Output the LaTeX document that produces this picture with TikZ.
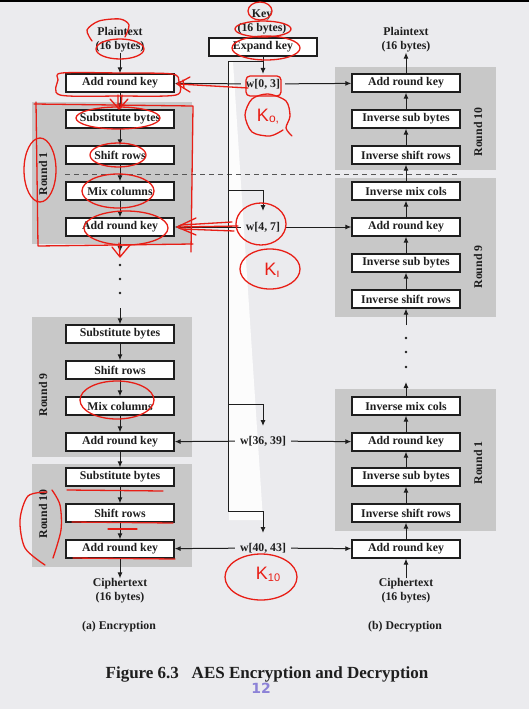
\documentclass[tikz,border=0pt]{standalone}
\usepackage{fontspec}
\setmainfont{Liberation Serif}
\newfontfamily\handfont{Liberation Sans}
\newfontfamily\numfont{DejaVu Sans}
\usetikzlibrary{arrows.meta}
\definecolor{bgc}{RGB}{235,235,238}
\definecolor{roundgrey}{RGB}{200,200,200}
\definecolor{ink}{RGB}{30,30,30}
\definecolor{redink}{RGB}{232,30,22}
\definecolor{pagenum}{RGB}{140,130,215}
\begin{document}
\begin{tikzpicture}[x=1pt,y=-1pt,
  stepbox/.style={draw=ink, line width=1.3pt, fill=white, minimum width=108pt, minimum height=18pt, inner sep=0pt, font=\fontsize{11.8}{14}\selectfont\bfseries, text=ink},
  lbl/.style={inner sep=0pt, font=\fontsize{11.8}{14}\selectfont\bfseries, text=ink, align=center},
  wlbl/.style={lbl, inner xsep=5pt, inner ysep=3pt},
  roundlbl/.style={lbl, rotate=90},
  conn/.style={draw=ink, line width=1pt, -{Latex[length=6pt,width=5pt]}},
  plainline/.style={draw=ink, line width=1pt},
  redmark/.style={draw=redink, line width=1.3pt, line cap=round, line join=round},
  redtext/.style={text=redink, inner sep=0pt, font=\handfont\fontsize{18}{18}\selectfont},
  dotc/.style={circle, fill=ink, inner sep=0pt, minimum size=2.8pt}
]
\useasboundingbox (0,0) rectangle (529,709);
\fill[bgc] (0,0) rectangle (529,709);
\fill[black] (0,0) rectangle (529,2.5);
% white reflection wedge
\fill[white, opacity=0.85] (229,62) -- (233,62) -- (263,520) -- (229,520) -- cycle;

% grey round panels
\fill[roundgrey] (32,102) rectangle (192,244);
\fill[roundgrey] (32,317) rectangle (192,457);
\fill[roundgrey] (32,464) rectangle (192,567);
\fill[roundgrey] (335,67) rectangle (496,170);
\fill[roundgrey] (335,178) rectangle (496,317);
\fill[roundgrey] (335,389) rectangle (496,531);

% dashed separator
\coordinate (dashL) at (65,174);
\coordinate (dashR) at (460,174);
\draw[ink!75, line width=0.9pt, dash pattern=on 5pt off 4pt] (dashL) -- (dashR);

% ---------- Encryption ----------
\node[lbl] (ptL) at (120,40) {Plaintext\\(16 bytes)};
\node[stepbox] (eA0) at (120,83) {Add round key};
\node[stepbox] (eS1) at (120,119) {Substitute bytes};
\node[stepbox] (eR1) at (120,155) {Shift rows};
\node[stepbox] (eM1) at (120,191) {Mix columns};
\node[stepbox] (eA1) at (120,227) {Add round key};
\coordinate (eOut1) at (120,252);
\node[dotc] (eD1) at (120,265) {};
\node[dotc] (eD2) at (120,279) {};
\node[dotc] (eD3) at (120,293) {};
\coordinate (eIn9) at (120,308);
\node[stepbox] (eS9) at (120,334) {Substitute bytes};
\node[stepbox] (eR9) at (120,370) {Shift rows};
\node[stepbox] (eM9) at (120,406) {Mix columns};
\node[stepbox] (eA9) at (120,442) {Add round key};
\node[stepbox] (eS10) at (120,477) {Substitute bytes};
\node[stepbox] (eR10) at (120,513) {Shift rows};
\node[stepbox] (eA10) at (120,549) {Add round key};
\node[lbl] (ctL) at (120,591) {Ciphertext\\(16 bytes)};
\node[lbl] (capA) at (119,627) {(a) Encryption};
\node[roundlbl] (rlE1) at (43,174) {Round 1};
\node[roundlbl] (rlE9) at (43,395) {Round 9};
\node[roundlbl] (rlE10) at (43,514) {Round 10};

\draw[conn] (ptL) -- (eA0);
\draw[conn] (eA0) -- (eS1);
\draw[conn] (eS1) -- (eR1);
\draw[conn] (eR1) -- (eM1);
\draw[conn] (eM1) -- (eA1);
\draw[conn] (eA1) -- (eOut1);
\draw[conn] (eIn9) -- (eS9);
\draw[conn] (eS9) -- (eR9);
\draw[conn] (eR9) -- (eM9);
\draw[conn] (eM9) -- (eA9);
\draw[conn] (eA9) -- (eS10);
\draw[conn] (eS10) -- (eR10);
\draw[conn] (eR10) -- (eA10);
\draw[conn] (eA10) -- (ctL);

% ---------- Decryption ----------
\node[lbl] (ptR) at (406,40) {Plaintext\\(16 bytes)};
\node[stepbox] (dA10) at (406,83) {Add round key};
\node[stepbox] (dS10) at (406,119) {Inverse sub bytes};
\node[stepbox] (dR10) at (406,155) {Inverse shift rows};
\node[stepbox] (dM9) at (406,191) {Inverse mix cols};
\node[stepbox] (dA9) at (406,227) {Add round key};
\node[stepbox] (dS9) at (406,263) {Inverse sub bytes};
\node[stepbox] (dR9) at (406,299) {Inverse shift rows};
\coordinate (dIn9) at (406,325);
\node[dotc] (dD1) at (406,338) {};
\node[dotc] (dD2) at (406,352) {};
\node[dotc] (dD3) at (406,367) {};
\coordinate (dOut1) at (406,382);
\node[stepbox] (dM1) at (406,406) {Inverse mix cols};
\node[stepbox] (dA1) at (406,442) {Add round key};
\node[stepbox] (dS1) at (406,477) {Inverse sub bytes};
\node[stepbox] (dR1) at (406,513) {Inverse shift rows};
\node[stepbox] (dA0) at (406,549) {Add round key};
\node[lbl] (ctR) at (406,591) {Ciphertext\\(16 bytes)};
\node[lbl] (capB) at (405,627) {(b) Decryption};
\node[roundlbl] (rlD10) at (478,132) {Round 10};
\node[roundlbl] (rlD9) at (478,267) {Round 9};
\node[roundlbl] (rlD1) at (478,463) {Round 1};

\draw[conn] (dA10) -- (ptR);
\draw[conn] (dS10) -- (dA10);
\draw[conn] (dR10) -- (dS10);
\draw[conn] (dM9) -- (dR10);
\draw[conn] (dA9) -- (dM9);
\draw[conn] (dS9) -- (dA9);
\draw[conn] (dR9) -- (dS9);
\draw[conn] (dIn9) -- (dR9);
\draw[conn] (dM1) -- (dOut1);
\draw[conn] (dA1) -- (dM1);
\draw[conn] (dS1) -- (dA1);
\draw[conn] (dR1) -- (dS1);
\draw[conn] (dA0) -- (dR1);
\draw[conn] (ctR) -- (dA0);

% ---------- Key expansion ----------
\node[lbl] (keyT) at (262,21.5) {Key\\(16 bytes)};
\node[stepbox] (expand) at (263,47) {Expand key};
\coordinate (kTop) at (263,62);
\coordinate (kCorner) at (228,62);
\coordinate (k0tip) at (263,74);
\coordinate (kB2) at (228,190);
\coordinate (kB2r) at (263,190);
\coordinate (k1tip) at (263,211);
\coordinate (kB3) at (228,404);
\coordinate (kB3r) at (263,404);
\coordinate (k9tip) at (263,426);
\coordinate (kB4) at (228,511);
\coordinate (kB4r) at (263,511);
\coordinate (k10tip) at (263,533);
\node[wlbl] (w0) at (263,84) {w[0, 3]};
\node[wlbl] (w1) at (263,227) {w[4, 7]};
\node[wlbl] (w9) at (263,441) {w[36, 39]};
\node[wlbl] (w10) at (263,548) {w[40, 43]};

\draw[conn] (expand) -- (k0tip);
\draw[plainline] (kTop) -- (kCorner) -- (kB4);
\draw[conn] (kB2) -- (kB2r) -- (k1tip);
\draw[conn] (kB3) -- (kB3r) -- (k9tip);
\draw[conn] (kB4) -- (kB4r) -- (k10tip);

\draw[conn] (w0) -- (eA0);
\draw[conn] (w0) -- (dA10);
\draw[conn] (w1) -- (eA1);
\draw[conn] (w1) -- (dA9);
\draw[conn] (w9) -- (eA9);
\draw[conn] (w9) -- (dA1);
\draw[conn] (w10) -- (eA10);
\draw[conn] (w10) -- (dA0);

% ---------- caption ----------
\node[lbl, font=\fontsize{17}{17}\selectfont\bfseries] (fig) at (267,674) {Figure 6.3\hspace{0.75em}AES Encryption and Decryption};
\node[inner sep=0pt, text=pagenum, font=\numfont\fontsize{14}{14}\selectfont\bfseries] (pnum) at (261,688) {12};

% ---------- red handwritten annotations ----------
\draw[redmark] plot[smooth] coordinates {(92,41) (87,30) (99,21) (120,19) (129,25) (125,37)};
\draw[redmark] (120,49) ellipse [x radius=24, y radius=10];
\draw[redmark] plot[smooth cycle] coordinates {(58,80) (62,73) (120,73) (172,74) (179,82) (176,95) (120,96) (60,95)};
\draw[redmark] (248,88) -- (178,84);
\draw[redmark] (190,77) -- (177,84) -- (190,92);
\draw[redmark] (183,80) -- (184,88);
\draw[redmark] (118,95) -- (118,108) (122,95) -- (121,108);
\draw[redmark] (110,99) -- (119,109) -- (128,99);
\draw[redmark] (34,104) -- (193,106) -- (191,252);
\draw[redmark] (36,102) -- (38,246) -- (193,244);
\draw[redmark] (40,170) ellipse [x radius=16, y radius=32];
\draw[redmark] (118,118) ellipse [x radius=42, y radius=11];
\draw[redmark] (118,155) ellipse [x radius=28, y radius=12];
\draw[redmark] (118,191) ellipse [x radius=36, y radius=17];
\draw[redmark] (126,228) ellipse [x radius=42, y radius=17];
\draw[redmark] (238,226) -- (178,227) (232,222) -- (181,225) (234,231) -- (182,229);
\draw[redmark] (196,218) -- (177,227) -- (196,235);
\draw[redmark] (112,247) -- (120,257) -- (130,245) (119,243) -- (120,257);
\draw[redmark] (260,11) ellipse [x radius=12, y radius=9];
\draw[redmark] (263,29) ellipse [x radius=28, y radius=8];
\draw[redmark] (266,48) ellipse [x radius=34, y radius=12];
\draw[redmark, rounded corners=4pt] (246,76) rectangle (281,96);
\draw[redmark] plot[smooth] coordinates {(283,130) (270,136) (252,132) (245,115) (252,99) (268,94) (286,101) (290,116) (286,128) (292,136)};
\node[redtext] (k0) at (268,117) {K\raisebox{-1pt}{\fontsize{12}{12}\selectfont o,}};
\draw[redmark] (261,224) ellipse [x radius=25, y radius=21];
\draw[redmark] (270,269) ellipse [x radius=30, y radius=20];
\node[redtext] (k1) at (272,270) {K\raisebox{-2pt}{\fontsize{12}{12}\selectfont ı}};
\draw[redmark] plot[smooth] coordinates {(47,492) (28,496) (20,520) (25,548) (45,565)};
\draw[redmark] plot[smooth] coordinates {(52,490) (60,505) (61,530) (53,558)};
\draw[redmark] (67,490) -- (163,491);
\draw[redmark] (72,522) -- (173,523);
\draw[redmark] (108,529) -- (137,529);
\draw[redmark] (73,558) -- (175,559);
\draw[redmark] (117,400) ellipse [x radius=37, y radius=19];
\draw[redmark] (261,577) ellipse [x radius=36, y radius=23];
\node[redtext] (k10) at (268,574) {K\raisebox{-2pt}{\fontsize{11}{11}\selectfont 10}};
\end{tikzpicture}
\end{document}
